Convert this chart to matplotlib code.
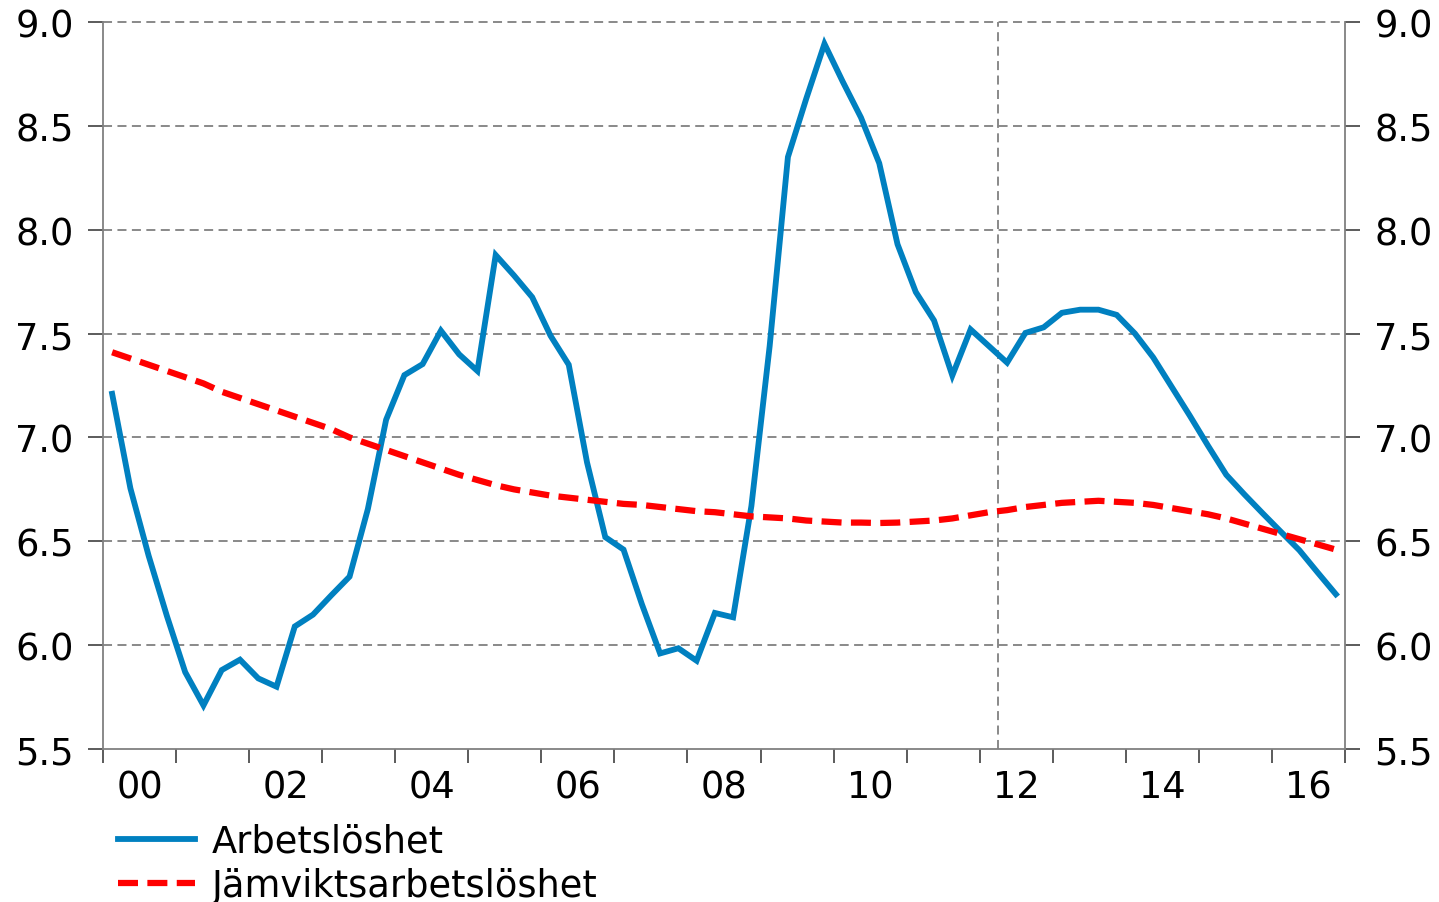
import numpy as np
import matplotlib
matplotlib.use("Agg")
import matplotlib.pyplot as plt
from matplotlib.ticker import FixedLocator, FixedFormatter, FormatStrFormatter

# Quarterly data 2000Q1 - 2016Q4
start_year = 2000
arbetsloshet = [
    7.21, 6.755, 6.43, 6.14, 5.87, 5.71, 5.88, 5.93, 5.84, 5.80,
    6.09, 6.147, 6.24, 6.33, 6.655, 7.085, 7.30, 7.353, 7.514, 7.40,
    7.32, 7.878, 7.78, 7.675, 7.49, 7.35, 6.88, 6.52, 6.46, 6.198,
    5.96, 5.985, 5.925, 6.155, 6.134, 6.67, 7.44, 8.35, 8.63, 8.895,
    8.713, 8.54, 8.32, 7.93, 7.70, 7.563, 7.298, 7.52, 7.44, 7.36,
    7.503, 7.53, 7.60, 7.615, 7.615, 7.59, 7.50, 7.385, 7.245, 7.105,
    6.96, 6.82, 6.725, 6.634, 6.545, 6.457, 6.35, 6.245,
]
jamviktsarbetsloshet = [
    7.41, 7.38, 7.35, 7.32, 7.29, 7.26, 7.22, 7.19, 7.16, 7.13,
    7.10, 7.07, 7.04, 7.00, 6.97, 6.94, 6.91, 6.88, 6.85, 6.82,
    6.795, 6.77, 6.75, 6.735, 6.72, 6.71, 6.70, 6.69, 6.68, 6.675,
    6.665, 6.655, 6.645, 6.64, 6.63, 6.62, 6.615, 6.61, 6.60, 6.595,
    6.59, 6.59, 6.588, 6.59, 6.595, 6.60, 6.61, 6.625, 6.64, 6.65,
    6.665, 6.675, 6.685, 6.69, 6.695, 6.69, 6.685, 6.675, 6.66, 6.645,
    6.63, 6.61, 6.585, 6.56, 6.535, 6.51, 6.485, 6.46,
]
series_labels = ["Arbetslöshet", "Jämviktsarbetslöshet"]
x_tick_labels = ["00", "02", "04", "06", "08", "10", "12", "14", "16"]
y_ticks = [5.5, 6.0, 6.5, 7.0, 7.5, 8.0, 8.5, 9.0]
marker_line = 2012.25

n = len(arbetsloshet)
x = start_year + (np.arange(n) + 0.5) / 4.0

plt.rcParams['font.family'] = ['DejaVu Sans']
fig = plt.figure(figsize=(14.39, 9.03), dpi=100)
ax = fig.add_axes([103/1439, 1 - 750/903, (1345-103)/1439, (750-23)/903])

grid_col = "#808080"
for yv in y_ticks[1:]:
    ax.axhline(yv, color=grid_col, lw=1.3, ls=(0, (5, 3)), zorder=1, clip_on=False)
ax.axvline(marker_line, color=grid_col, lw=1.3, ls=(0, (5, 3)), zorder=1)

ax.plot(x, arbetsloshet, color="#0080C0", lw=4.2, label=series_labels[0],
        solid_joinstyle="miter", zorder=3)
ax.plot(x, jamviktsarbetsloshet, color="#FF0000", lw=4.5, ls=(0, (3.2, 1.5)),
        label=series_labels[1], zorder=4)

ax.set_xlim(2000, 2017)
ax.set_ylim(5.5, 9.0)

ax.xaxis.set_major_locator(FixedLocator(np.arange(2000, 2018)))
ax.xaxis.set_major_formatter(FixedFormatter([""] * 18))
ax.xaxis.set_minor_locator(FixedLocator([2000.5 + 2 * k for k in range(len(x_tick_labels))]))
ax.xaxis.set_minor_formatter(FixedFormatter(x_tick_labels))
ax.tick_params(axis='x', which='major', length=10, width=1.2, color="#404040", direction='out')
ax.tick_params(axis='x', which='minor', length=0, pad=14, labelsize=26.5)

ax.set_yticks(y_ticks)
ax.yaxis.set_major_formatter(FormatStrFormatter('%.1f'))
ax.tick_params(axis='y', which='major', length=11, width=1.2, color="#404040",
               direction='out', labelsize=26.5, pad=10, left=True, right=True,
               labelleft=True, labelright=True)

for s in ['left', 'right', 'bottom']:
    ax.spines[s].set_color(grid_col)
    ax.spines[s].set_linewidth(1.3)
ax.spines['top'].set_visible(False)

leg = fig.legend(loc='upper left', bbox_to_anchor=(118/1439, 1 - 824/903),
                 frameon=False, fontsize=26.5, handlelength=2.1, handletextpad=0.45,
                 labelspacing=0.2, borderpad=0, borderaxespad=0)

fig.savefig("out.png", dpi=100)
